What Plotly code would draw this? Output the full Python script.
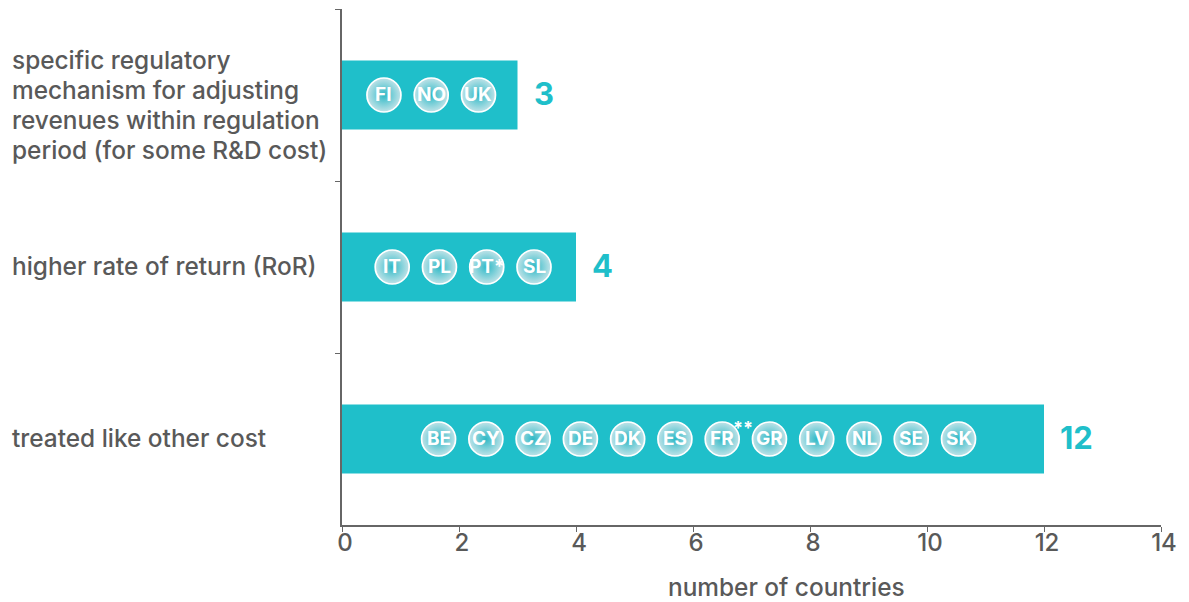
import plotly.graph_objects as go

category_lines = [
    ["specific regulatory", "mechanism for adjusting", "revenues within regulation", "period (for some R&amp;D cost)"],
    ["higher rate of return (RoR)"],
    ["treated like other cost"],
]
categories = [" ".join(lines) for lines in category_lines]
country_counts = [3, 4, 12]
country_codes = [
    ["FI", "NO", "UK"],
    ["IT", "PL", "PT*", "SL"],
    ["BE", "CY", "CZ", "DE", "DK", "ES", "FR", "GR", "LV", "NL", "SE", "SK"],
]
x_ticks = [0, 2, 4, 6, 8, 10, 12, 14]
x_title = "number of countries"

TEAL = "#1fbfca"
GREY = "#595959"
FONT = "Inter"
BADGE_STEP = 0.808
BADGE_CENTRES = [1.525, 2.07, 6.095]  # axis position of the middle of each badge row
LINE_PX = 30


def badge_positions(centre, codes):
    return [centre + (i - (len(codes) - 1) / 2) * BADGE_STEP for i in range(len(codes))]


fig = go.Figure()

fig.add_trace(go.Bar(
    y=categories,
    x=country_counts,
    orientation="h",
    marker=dict(color=TEAL, line=dict(width=0)),
    hoverinfo="skip",
))

# One row of round country badges per bar
for cat, lines, count, codes, centre in zip(
    categories, category_lines, country_counts, country_codes, BADGE_CENTRES
):
    xs = badge_positions(centre, codes)
    fig.add_trace(go.Scatter(
        x=xs,
        y=[cat] * len(codes),
        mode="markers",
        marker=dict(
            size=34,
            color="#c0e3e8",
            gradient=dict(type="radial", color="#2fb9c6"),
            line=dict(color="white", width=1.7),
        ),
        hoverinfo="skip",
    ))
    for x, code in zip(xs, codes):
        fig.add_annotation(
            x=x, y=cat, text=code, showarrow=False, yshift=1,
            font=dict(family=FONT, size=19, color="white", weight=700),
        )

    # Count printed just past the end of the bar
    fig.add_annotation(
        x=count, y=cat, text=str(count), showarrow=False,
        xanchor="left", xshift=14, yshift=2,
        font=dict(family=FONT, size=31, color=TEAL, weight=700),
    )

    # Category label, one annotation per line so the leading stays fixed
    block_shift = -10 if len(lines) > 1 else 1
    for n, line in enumerate(lines):
        fig.add_annotation(
            x=0, xref="paper", xanchor="left", xshift=-332,
            y=cat,
            yshift=block_shift - (n - (len(lines) - 1) / 2) * LINE_PX,
            text=line, showarrow=False, align="left",
            font=dict(family=FONT, size=24.4, color=GREY, weight=500),
        )

# Footnote stars beside the FR badge
fr_row = country_codes[2]
fr_x = badge_positions(BADGE_CENTRES[2], fr_row)[fr_row.index("FR")]
fig.add_annotation(
    x=fr_x, y=categories[2], text="**", showarrow=False,
    xshift=21, yshift=12,
    font=dict(family=FONT, size=18, color="white", weight=700),
)

fig.add_annotation(
    x=0.543, xref="paper", y=-0.12, yref="paper", yanchor="middle",
    text=x_title, showarrow=False,
    font=dict(family=FONT, size=24.4, color=GREY, weight=500),
)

fig.update_layout(
    width=1189,
    height=602,
    autosize=False,
    margin=dict(l=342, r=28, t=9, b=77, pad=0),
    paper_bgcolor="white",
    plot_bgcolor="white",
    showlegend=False,
    bargap=0.6,
    xaxis=dict(
        range=[0, 14],
        tickvals=x_ticks,
        ticks="outside",
        ticklen=5,
        tickwidth=1,
        tickcolor="#666666",
        showgrid=False,
        zeroline=False,
        showline=True,
        linecolor="#666666",
        linewidth=1.5,
        ticklabelshift=3,
        ticklabelstandoff=-10,
        tickfont=dict(family=FONT, size=24, color=GREY, weight=500),
    ),
    yaxis=dict(
        type="category",
        categoryorder="array",
        categoryarray=categories,
        range=[2.5, -0.5],
        tickson="boundaries",
        ticks="outside",
        ticklen=5,
        tickwidth=1,
        tickcolor="#666666",
        showticklabels=False,
        showgrid=False,
        zeroline=False,
        showline=True,
        linecolor="#666666",
        linewidth=1.5,
    ),
)

fig.write_html("out.html")
